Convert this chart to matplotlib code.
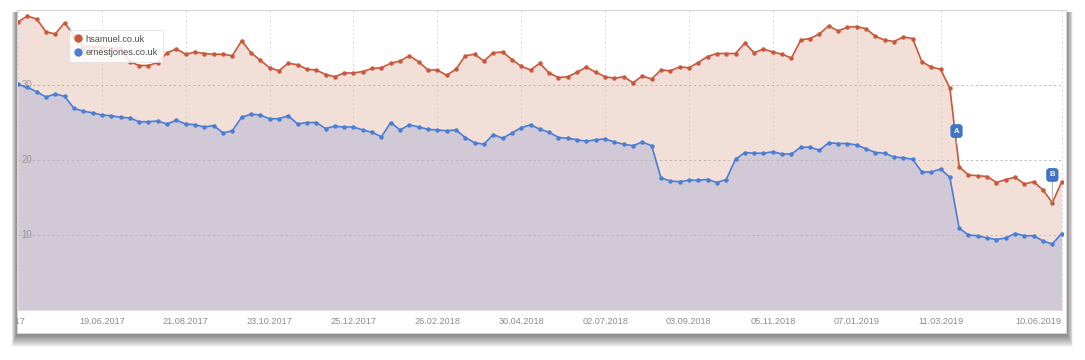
import matplotlib.pyplot as plt
import numpy as np
import pandas as pd
from matplotlib.patches import Rectangle
from matplotlib.lines import Line2D
from matplotlib.transforms import Bbox, TransformedBbox

plt.rcParams['font.family'] = ['Liberation Sans', 'DejaVu Sans']

# weekly visibility values
weeks = pd.date_range("2017-04-17", periods=113, freq="7D")

hsamuel = [38.4, 39.2, 38.8, 37.1, 36.8, 38.3, 36.6, 35.1, 35.1, 35.1,
           34.9, 34.9, 33.1, 32.6, 32.6, 33.0, 34.3, 34.8, 34.1, 34.4,
           34.2, 34.1, 34.1, 33.9, 35.9, 34.3, 33.3, 32.3, 31.9, 32.9,
           32.7, 32.1, 32.0, 31.4, 31.1, 31.6, 31.6, 31.8, 32.2, 32.3,
           32.9, 33.2, 33.9, 33.1, 32.0, 32.0, 31.3, 32.1, 33.9, 34.1,
           33.2, 34.3, 34.4, 33.4, 32.5, 32.0, 32.9, 31.6, 31.0, 31.1,
           31.7, 32.4, 31.7, 31.1, 30.9, 31.1, 30.3, 31.2, 30.8, 32.0,
           31.9, 32.4, 32.3, 33.0, 33.8, 34.2, 34.2, 34.2, 35.6, 34.3,
           34.8, 34.4, 34.1, 33.6, 36.0, 36.2, 36.8, 37.9, 37.2, 37.7,
           37.8, 37.5, 36.5, 36.0, 35.8, 36.4, 36.2, 33.1, 32.4, 32.1,
           29.6, 19.1, 18.0, 17.9, 17.8, 17.0, 17.4, 17.7, 16.8, 17.1,
           16.0, 14.3, 17.1]

ernestjones = [30.1, 29.7, 29.1, 28.4, 28.8, 28.5, 26.9, 26.5, 26.3, 26.0,
               25.9, 25.7, 25.6, 25.1, 25.1, 25.2, 24.8, 25.3, 24.8, 24.7,
               24.4, 24.6, 23.6, 23.9, 25.7, 26.1, 26.0, 25.5, 25.5, 25.9,
               24.8, 25.0, 25.0, 24.2, 24.5, 24.4, 24.4, 24.0, 23.7, 23.1,
               25.0, 24.0, 24.7, 24.4, 24.1, 24.0, 23.9, 24.0, 23.0, 22.3,
               22.1, 23.4, 22.9, 23.6, 24.3, 24.7, 24.1, 23.7, 23.0, 22.9,
               22.7, 22.5, 22.7, 22.8, 22.4, 22.1, 21.9, 22.4, 21.9, 17.6,
               17.2, 17.1, 17.3, 17.3, 17.4, 17.0, 17.4, 20.1, 21.0, 20.9,
               20.9, 21.1, 20.8, 20.8, 21.7, 21.7, 21.3, 22.3, 22.2, 22.2,
               22.0, 21.5, 21.0, 20.9, 20.4, 20.3, 20.1, 18.4, 18.4, 18.8,
               17.7, 10.9, 10.0, 9.9, 9.6, 9.4, 9.6, 10.2, 9.9, 9.9,
               9.2, 8.8, 10.2]

tick_labels = ["17.04.2017", "19.06.2017", "21.08.2017", "23.10.2017", "25.12.2017",
               "26.02.2018", "30.04.2018", "02.07.2018", "03.09.2018", "05.11.2018",
               "07.01.2019", "11.03.2019", "10.06.2019"]
tick_dates = pd.to_datetime(tick_labels, format="%d.%m.%Y")
y_ticks = [10, 20, 30]

events = ["A", "B"]
event_dates = pd.to_datetime(["2019-03-23", "2019-06-03"])

W, H = 1085, 360
fig = plt.figure(figsize=(W / 100, H / 100), dpi=100)
fig.patch.set_facecolor("white")


def box(x0, y0, x1, y1):
    # pixel box (top-left origin) -> figure fraction [l, b, w, h]
    return [x0 / W, 1 - y1 / H, (x1 - x0) / W, (y1 - y0) / H]


# screenshot frame with a soft drop shadow
for k in range(14):
    l, b, w, h = box(17 - k * 0.4, 12, 1066 + 1 + k * 0.45, 334 + k * 1.0)
    fig.patches.append(Rectangle((l, b), w, h, transform=fig.transFigure,
                                 facecolor="black", alpha=0.045, lw=0, zorder=-2))
l, b, w, h = box(17, 10, 1066, 333)
fig.patches.append(Rectangle((l, b), w, h, transform=fig.transFigure,
                             facecolor="white", edgecolor="#d6d6d6", lw=0.8, zorder=-1))

ax = fig.add_axes(box(18, 10, 1063, 310))
ax.set_zorder(1)
ax.patch.set_visible(False)
for s in ax.spines.values():
    s.set_visible(False)

red, blue = "#c9573a", "#4a7dd4"

ax.fill_between(weeks, 0, hsamuel, color="#f2dfd8", lw=0, zorder=1)
ax.fill_between(weeks, 0, ernestjones, color="#d1c9d6", lw=0, zorder=1.1)

for v in y_ticks:
    ax.axhline(v, color="#b9b2ba", lw=0.7, ls=(0, (2, 3)), zorder=1.5)
for d in tick_dates:
    ax.axvline(d, color="#d4ced4", lw=0.7, ls=(0, (1.5, 3)), zorder=1.5)

ax.plot(weeks, hsamuel, color=red, lw=1.2, marker="o", ms=3.2, mew=0, zorder=3)
ax.plot(weeks, ernestjones, color=blue, lw=1.2, marker="o", ms=3.2, mew=0, zorder=3)

ax.set_xlim(weeks[0], weeks[-1] + pd.Timedelta(days=1))
ax.set_ylim(0, 40)
ax.set_xticks([])
ax.set_yticks([])

# y labels drawn inside the plot
for v in y_ticks:
    ax.annotate(str(v), xy=(0, v), xycoords=("axes fraction", "data"),
                xytext=(2.5, 0), textcoords="offset points",
                ha="left", va="center", fontsize=7, color="#9a9a9a", zorder=2)

# x labels under the plot
clip = TransformedBbox(Bbox.from_extents(17 / W, 0, 1066 / W, 1), fig.transFigure)
for i, (d, lab) in enumerate(zip(tick_dates, tick_labels)):
    ha, dx = "center", 0
    if i == 0:
        ha, dx = "right", 5
    elif i == len(tick_labels) - 1:
        ha, dx = "right", 0
    t = ax.annotate(lab, xy=(d, 0), xycoords=("data", "axes fraction"),
                    xytext=(dx, -8), textcoords="offset points",
                    ha=ha, va="center", fontsize=6.6, color="#8c8c8c",
                    annotation_clip=False)
    t.set_clip_box(clip)
    t.set_clip_on(True)

# event flags
xnum = weeks.values.astype("int64")
for lab, d, off in zip(events, event_dates, [9.5, 20]):
    yv = np.interp(d.value, xnum, hsamuel)
    ax.annotate(lab, xy=(d, yv), xytext=(0, off), textcoords="offset points",
                ha="center", va="center", fontsize=5.5, fontweight="bold", color="white",
                bbox=dict(boxstyle="round,pad=0.35", fc="#3f74c6", ec="#3f74c6"),
                arrowprops=dict(arrowstyle="-", color="#a0a0a0", lw=0.6,
                                shrinkA=0, shrinkB=0),
                zorder=5)

handles = [Line2D([], [], color=red, marker="o", ls="none", ms=5),
           Line2D([], [], color=blue, marker="o", ls="none", ms=5)]
leg = ax.legend(handles, ["hsamuel.co.uk", "ernestjones.co.uk"],
                loc="upper left", bbox_to_anchor=(0.049, 0.933), borderaxespad=0,
                fontsize=6.6, frameon=True, fancybox=False, framealpha=0.85,
                edgecolor="#dddddd", handletextpad=0.3, handlelength=1.0,
                borderpad=0.5, labelspacing=0.5)
leg.get_frame().set_linewidth(0.6)
for t in leg.get_texts():
    t.set_color("#4a4a4a")
leg.set_zorder(6)

fig.savefig("out.png", dpi=100)
